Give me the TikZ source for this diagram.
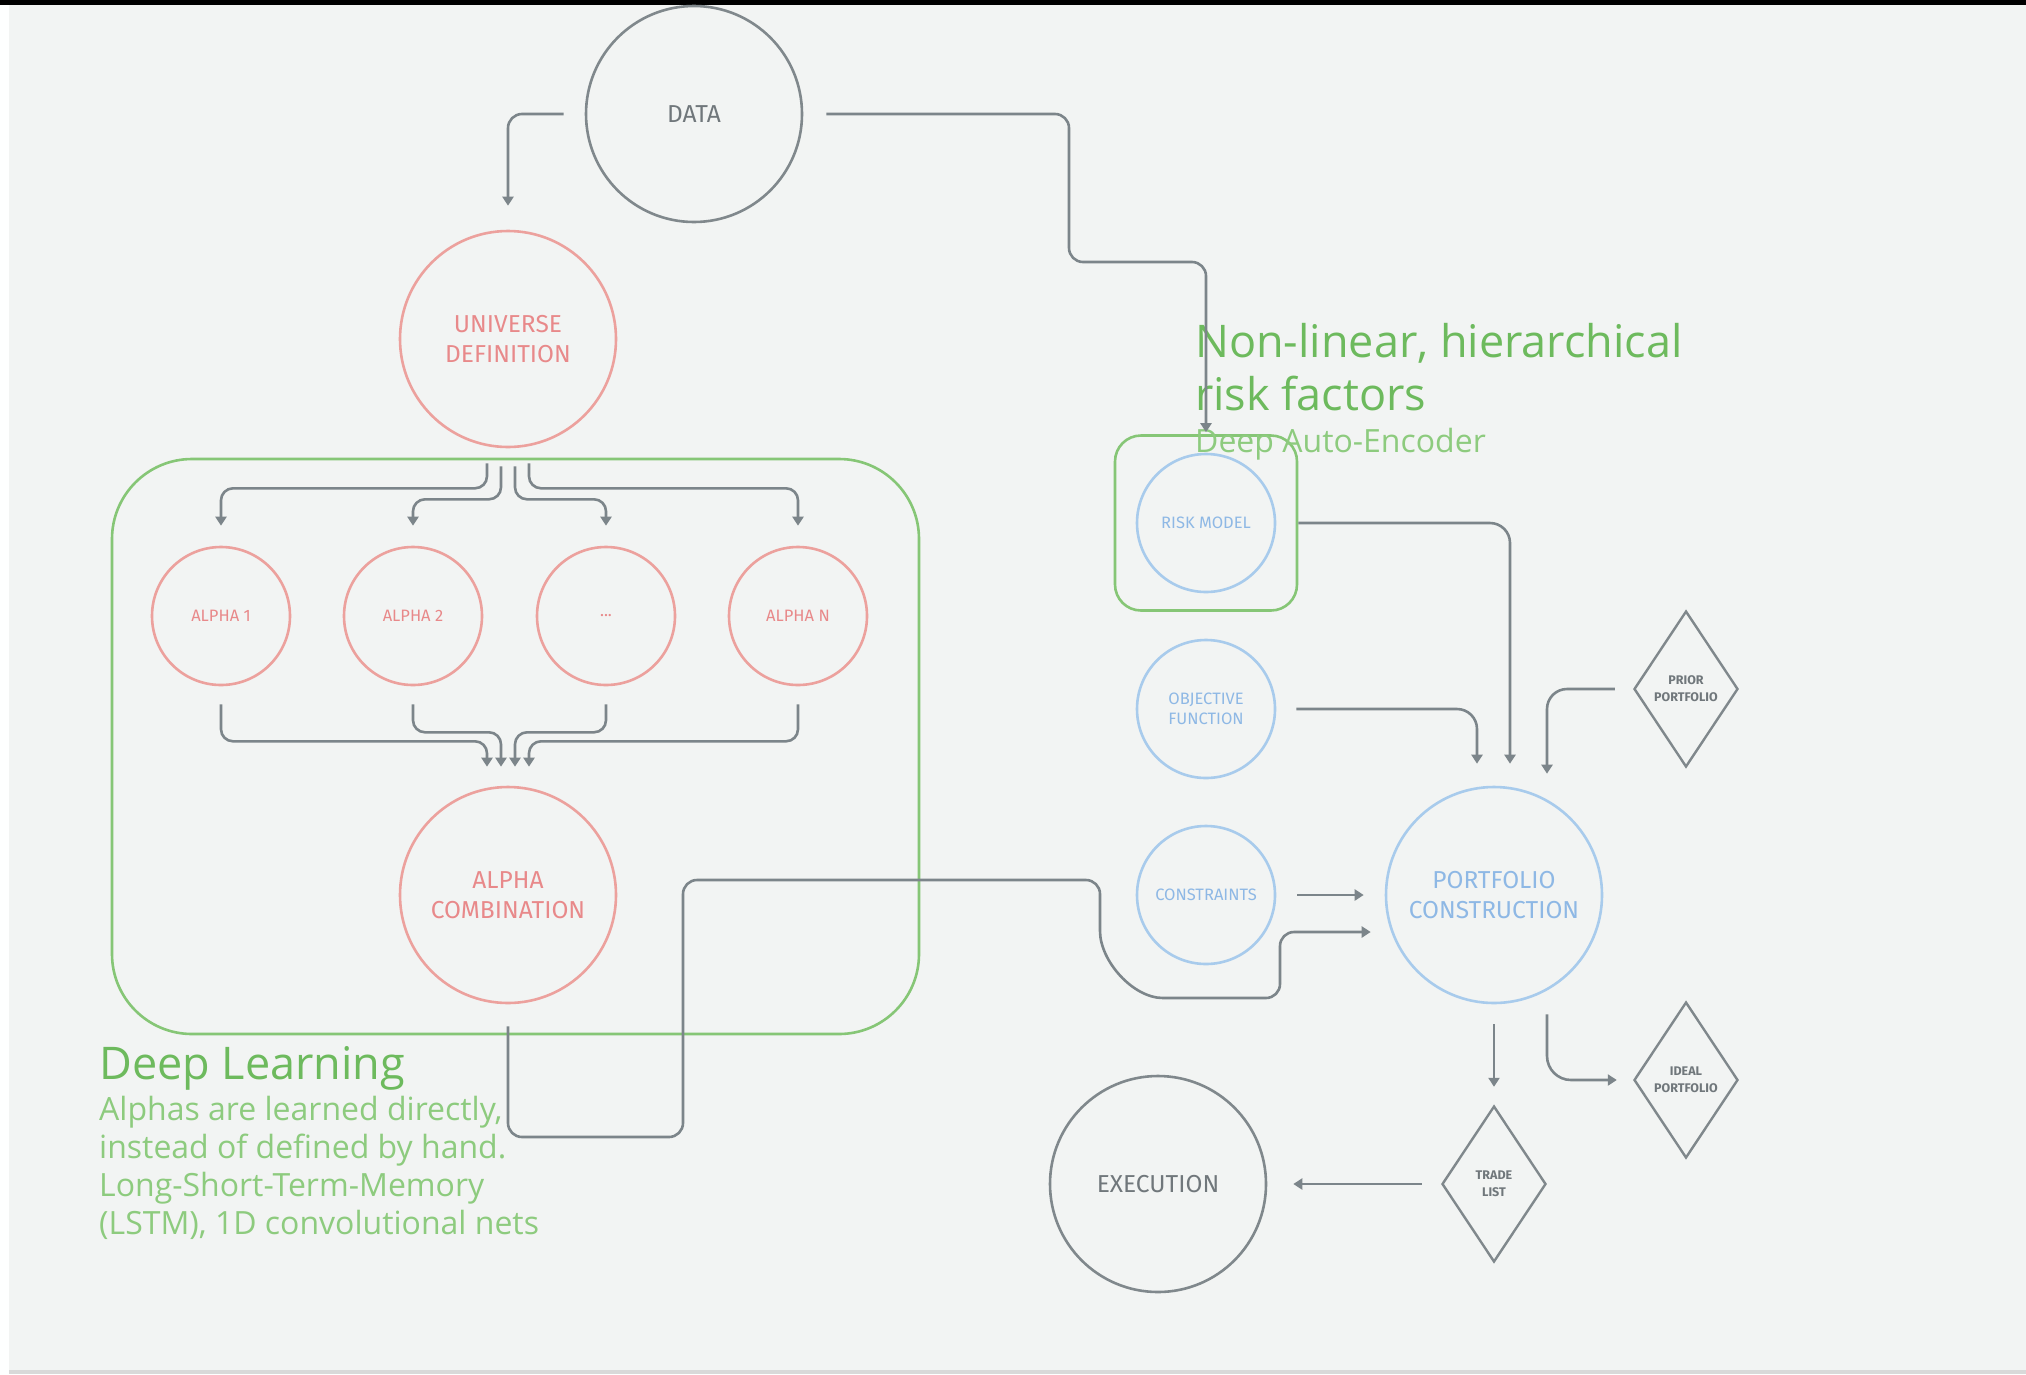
\documentclass[tikz,border=0pt]{standalone}
\usepackage{fontspec}
\setmainfont{Open Sans}
\newfontfamily\labelfont{Fira Sans}
\usetikzlibrary{arrows.meta,shapes.geometric}
\definecolor{bgc}{HTML}{F2F4F3}
\definecolor{redline}{HTML}{ECA19D}
\definecolor{redtext}{HTML}{E8898A}
\definecolor{blueline}{HTML}{A8CBEC}
\definecolor{bluetext}{HTML}{8EB8E5}
\definecolor{greyline}{HTML}{80888C}
\definecolor{greytext}{HTML}{70777B}
\definecolor{greenline}{HTML}{86C676}
\definecolor{greentext}{HTML}{6DBA5D}
\definecolor{greenlight}{HTML}{8DCB7E}
\definecolor{connc}{HTML}{7C858A}

\begin{document}
\begin{tikzpicture}[x=1pt,y=-1pt,
 bignode/.style={circle,line width=2.6pt,minimum size=216pt,inner sep=0pt,align=center,font=\labelfont\fontsize{24.5}{30}\selectfont},
 smallnode/.style={circle,line width=2.6pt,minimum size=138pt,inner sep=0pt,align=center,font=\labelfont\fontsize{16.5}{20}\selectfont},
 redbig/.style={bignode,draw=redline,text=redtext},
 redsmall/.style={smallnode,draw=redline,text=redtext},
 bluebig/.style={bignode,draw=blueline,text=bluetext},
 bluesmall/.style={smallnode,draw=blueline,text=bluetext},
 greybig/.style={bignode,draw=greyline,text=greytext},
 decision/.style={diamond,draw=greyline,line width=2.4pt,minimum width=104pt,minimum height=156pt,inner sep=0pt,align=center,text=greytext,font=\labelfont\bfseries\fontsize{12.5}{17}\selectfont},
 groupbox/.style={draw=greenline,line width=2.6pt},
 conn/.style={draw=connc,line width=2.6pt,rounded corners=14pt,-{Triangle[length=9pt,width=11pt]}},
 heading/.style={anchor=base west,inner sep=0pt,text=greentext,font=\fontsize{45}{53}\selectfont,align=left},
 note/.style={anchor=base west,inner sep=0pt,text=greenlight,font=\fontsize{32}{38}\selectfont,align=left}]
\useasboundingbox (0,0) rectangle (2026,1374);
\fill[bgc] (0,0) rectangle (2026,1374);
\fill[black] (0,0) rectangle (2026,5);
\fill[white!97!bgc] (0,5) rectangle (9,1374);
\fill[black!15] (9,1370) rectangle (2026,1374);
% groups
\node[groupbox,rounded corners=80pt,minimum width=807pt,minimum height=575pt] (dlbox) at (515.5,746.5) {};
\node[groupbox,rounded corners=26pt,minimum width=182pt,minimum height=175pt] (riskbox) at (1206,523) {};
% nodes
\node[greybig] (data) at (694,114) {DATA};
\node[redbig] (univ) at (508,339) {UNIVERSE\\DEFINITION};
\node[redsmall] (a1) at (221,616) {ALPHA 1};
\node[redsmall] (a2) at (413,616) {ALPHA 2};
\node[redsmall] (a3) at (606,616) {...};
\node[redsmall] (a4) at (798,616) {ALPHA N};
\node[redbig] (comb) at (508,895) {ALPHA\\COMBINATION};
\node[bluesmall] (risk) at (1206,523) {RISK MODEL};
\node[bluesmall] (obj) at (1206,709) {OBJECTIVE\\FUNCTION};
\node[bluesmall] (cons) at (1206,895) {CONSTRAINTS};
\node[bluebig] (port) at (1494,895) {PORTFOLIO\\CONSTRUCTION};
\node[decision] (prior) at (1686,689) {PRIOR\\PORTFOLIO};
\node[decision] (ideal) at (1686,1080) {IDEAL\\PORTFOLIO};
\node[decision] (trade) at (1494,1184) {TRADE\\LIST};
\node[greybig] (exec) at (1158,1184) {EXECUTION};
% texts (base anchor sits on the last line)
\node[heading] (risktitle) at (1195,410) {Non-linear, hierarchical\\risk factors};
\node[note] (risksub) at (1195,452) {Deep Auto-Encoder};
\node[heading] (dltitle) at (99,1079) {Deep Learning};
\node[note] (dltext) at (99,1234) {Alphas are learned directly,\\instead of defined by hand.\\Long-Short-Term-Memory\\(LSTM), 1D convolutional nets};
% connectors
\draw[conn,shorten <=21pt,shorten >=24pt] (data.west) -| (univ.north);
\draw[conn,shorten <=23pt,shorten >=2pt] (data.east) -| (1069,262) -| (riskbox.north);
\draw[conn,rounded corners=12pt,shorten <=15pt,shorten >=20pt] ([xshift=-21pt]univ.south) -- ++(0,40) -| (a1.north);
\draw[conn,rounded corners=12pt,shorten <=18pt,shorten >=20pt] ([xshift=-7pt]univ.south) -- ++(0,51) -| (a2.north);
\draw[conn,rounded corners=12pt,shorten <=18pt,shorten >=20pt] ([xshift=7pt]univ.south) -- ++(0,51) -| (a3.north);
\draw[conn,rounded corners=12pt,shorten <=15pt,shorten >=20pt] ([xshift=21pt]univ.south) -- ++(0,40) -| (a4.north);
\draw[conn,rounded corners=12pt,shorten <=18pt,shorten >=19pt] (a1.south) -- ++(0,55) -| ([xshift=-21pt]comb.north);
\draw[conn,rounded corners=12pt,shorten <=18pt,shorten >=19pt] (a2.south) -- ++(0,46) -| ([xshift=-7pt]comb.north);
\draw[conn,rounded corners=12pt,shorten <=18pt,shorten >=19pt] (a3.south) -- ++(0,46) -| ([xshift=7pt]comb.north);
\draw[conn,rounded corners=12pt,shorten <=18pt,shorten >=19pt] (a4.south) -- ++(0,55) -| ([xshift=21pt]comb.north);
\draw[conn,shorten <=22pt,shorten >=14pt] (comb.south) |- (683,1137) |- (1100,880) -- (1100,917)
  .. controls (1100,961) and (1133,998) .. (1177,998) -| (1280,932) -- ([yshift=-37pt]port.west);
\draw[conn,rounded corners=20pt,shorten >=22pt] (riskbox.east) -| ([xshift=16pt]port.north);
\draw[conn,rounded corners=20pt,shorten <=20pt,shorten >=22pt] (obj.east) -| ([xshift=-17pt]port.north);
\draw[conn,rounded corners=20pt,shorten <=18pt,shorten >=12pt] (prior.west) -| ([xshift=53pt]port.north);
\draw[conn,shorten <=21pt,shorten >=21pt] (cons.east) -- (port.west);
\draw[conn,shorten <=20pt,shorten >=18pt] (port.south) -- (trade.north);
\draw[conn,rounded corners=24pt,shorten <=10pt,shorten >=16pt] ([xshift=53pt]port.south) |- (ideal.west);
\draw[conn,shorten <=19pt,shorten >=26pt] (trade.west) -- (exec.east);
\end{tikzpicture}
\end{document}
